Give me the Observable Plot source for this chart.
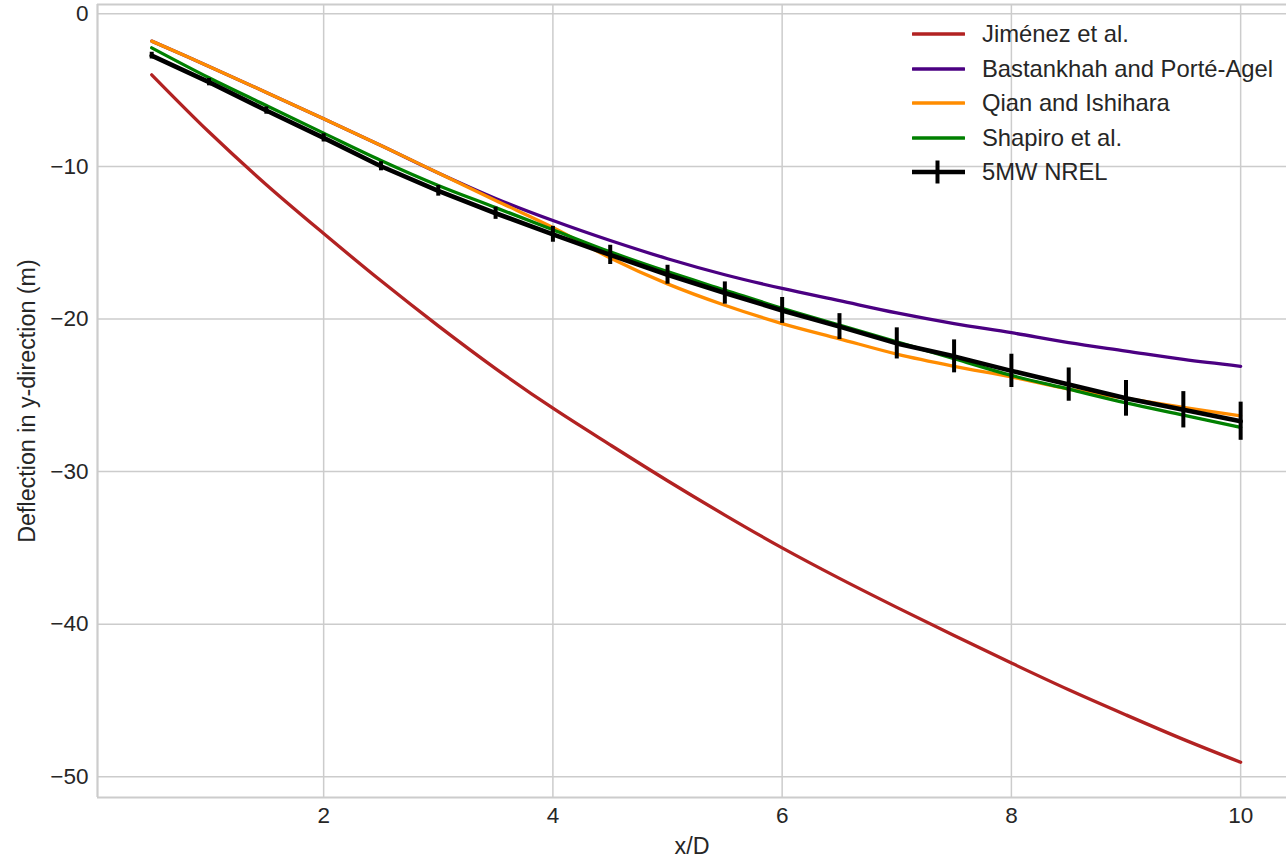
<!DOCTYPE html>
<html>
<head>
<meta charset="utf-8">
<script src="https://cdn.jsdelivr.net/npm/d3@7"></script>
<script src="https://cdn.jsdelivr.net/npm/@observablehq/plot@0.6"></script>
<style>
  html, body { margin: 0; padding: 0; background: #ffffff; }
  #wrap { position: relative; width: 1286px; height: 859px; overflow: hidden; }
  #legend { position: absolute; left: 912px; top: 17px; font-family: "Liberation Sans", Arial, sans-serif; font-size: 23.8px; color: #262626; }
  .row { display: flex; align-items: center; height: 34.5px; }
  .row svg { margin-right: 17px; }
</style>
</head>
<body>
<div id="wrap"><div id="legend"></div></div>
<script>
// Downstream distance in rotor diameters
const xD = [0.5, 1, 1.5, 2, 2.5, 3, 3.5, 4, 4.5, 5, 5.5, 6, 6.5, 7, 7.5, 8, 8.5, 9, 9.5, 10];

// Wake-centre deflection (m) predicted by each model
const jimenez    = [-4.0, -7.75, -11.2, -14.4, -17.5, -20.45, -23.25, -25.85, -28.25, -30.6, -32.85, -35.0, -37.0, -38.9, -40.75, -42.55, -44.3, -45.95, -47.55, -49.05];
const bastankhah = [-1.79, -3.45, -5.15, -6.88, -8.63, -10.43, -12.1, -13.55, -14.86, -16.05, -17.1, -18.0, -18.8, -19.6, -20.3, -20.9, -21.55, -22.1, -22.65, -23.1];
const qian       = [-1.79, -3.45, -5.15, -6.88, -8.63, -10.43, -12.23, -14.0, -16.0, -17.7, -19.1, -20.3, -21.3, -22.3, -23.1, -23.8, -24.6, -25.2, -25.8, -26.35];
const shapiro    = [-2.23, -4.19, -6.01, -7.82, -9.61, -11.25, -12.7, -14.15, -15.6, -16.9, -18.1, -19.3, -20.4, -21.5, -22.6, -23.7, -24.6, -25.5, -26.3, -27.1];

// Simulation results (5MW NREL turbine) with their uncertainty
const nrel    = [-2.74, -4.48, -6.34, -8.13, -9.99, -11.6, -13.07, -14.45, -15.8, -17.1, -18.3, -19.44, -20.5, -21.6, -22.45, -23.4, -24.3, -25.2, -25.95, -26.7];
const nrelErr = [0.22, 0.24, 0.24, 0.27, 0.3, 0.35, 0.4, 0.52, 0.63, 0.62, 0.73, 0.85, 0.85, 1.02, 1.08, 1.09, 1.09, 1.17, 1.19, 1.25];

const seriesNames  = ["Jiménez et al.", "Bastankhah and Porté-Agel", "Qian and Ishihara", "Shapiro et al.", "5MW NREL"];
const seriesColors = ["#b22222", "#4b0082", "#ff8c00", "#008000", "#000000"];

const xTicks = [2, 4, 6, 8, 10];
const yTicks = [0, -10, -20, -30, -40, -50];
const xDomain = [0.027, 10.40];
const yDomain = [-51.36, 0.61];

const models = [jimenez, bastankhah, qian, shapiro];
const modelRows = models.flatMap((arr, k) =>
  xD.map((x, i) => ({x, y: arr[i], name: seriesNames[k]}))
);
const nrelRows = xD.map((x, i) => ({x, y: nrel[i], lo: nrel[i] - nrelErr[i], hi: nrel[i] + nrelErr[i]}));

const grid = "#cccccc";
const ink = "#262626";
const fmt = d => (d < 0 ? "\u2212" + Math.abs(d) : String(d));

const chart = Plot.plot({
  width: 1286,
  height: 859,
  marginLeft: 97,
  marginRight: 0,
  marginTop: 4,
  marginBottom: 62,
  style: {fontFamily: "'Liberation Sans', Arial, sans-serif", fontSize: "22.5px", color: ink, background: "#ffffff", overflow: "visible"},
  x: {domain: xDomain},
  y: {domain: yDomain},
  marks: [
    Plot.gridX(xTicks, {stroke: grid, strokeOpacity: 1, strokeWidth: 1.5}),
    Plot.gridY(yTicks, {stroke: grid, strokeOpacity: 1, strokeWidth: 1.5}),
    Plot.ruleX([xDomain[0]], {stroke: grid, strokeWidth: 2.2}),
    Plot.ruleY(yDomain, {stroke: grid, strokeWidth: 2.2}),
    Plot.axisX(xTicks, {tickSize: 0, tickPadding: 10, tickFormat: fmt, fontSize: 22.5, fill: ink, label: null}),
    Plot.axisY(yTicks, {tickSize: 0, tickPadding: 9, tickFormat: fmt, fontSize: 22.5, fill: ink, label: null}),
    Plot.text(["x/D"], {frameAnchor: "bottom", lineAnchor: "middle", dy: 49, fontSize: 23.3, fill: ink}),
    Plot.text(["Deflection in y-direction (m)"], {frameAnchor: "left", textAnchor: "middle", lineAnchor: "middle", dx: -70, rotate: -90, fontSize: 23.3, fill: ink}),
    ...models.map((arr, k) =>
      Plot.line(modelRows.filter(d => d.name === seriesNames[k]), {
        x: "x", y: "y", stroke: seriesColors[k], strokeWidth: 3.3, curve: "catmull-rom"
      })
    ),
    Plot.line(nrelRows, {x: "x", y: "y", stroke: "#000000", strokeWidth: 4.6, curve: "linear"}),
    Plot.ruleX(nrelRows, {x: "x", y1: "lo", y2: "hi", stroke: "#000000", strokeWidth: 4})
  ]
});
document.getElementById("wrap").prepend(chart);

// Legend in the upper-right corner of the axes
const legend = d3.select("#legend");
seriesNames.forEach((name, k) => {
  const row = legend.append("div").attr("class", "row");
  const sw = row.append("svg").attr("width", 53).attr("height", 30);
  sw.append("line").attr("x1", 1).attr("x2", 52).attr("y1", 15).attr("y2", 15)
    .attr("stroke", seriesColors[k]).attr("stroke-width", k === 4 ? 4.6 : 3.3).attr("stroke-linecap", "round");
  if (k === 4) {
    sw.append("line").attr("x1", 25.5).attr("x2", 25.5).attr("y1", 3.5).attr("y2", 26.5)
      .attr("stroke", "#000").attr("stroke-width", 4);
  }
  row.append("span").text(name);
});
</script>
</body>
</html>
